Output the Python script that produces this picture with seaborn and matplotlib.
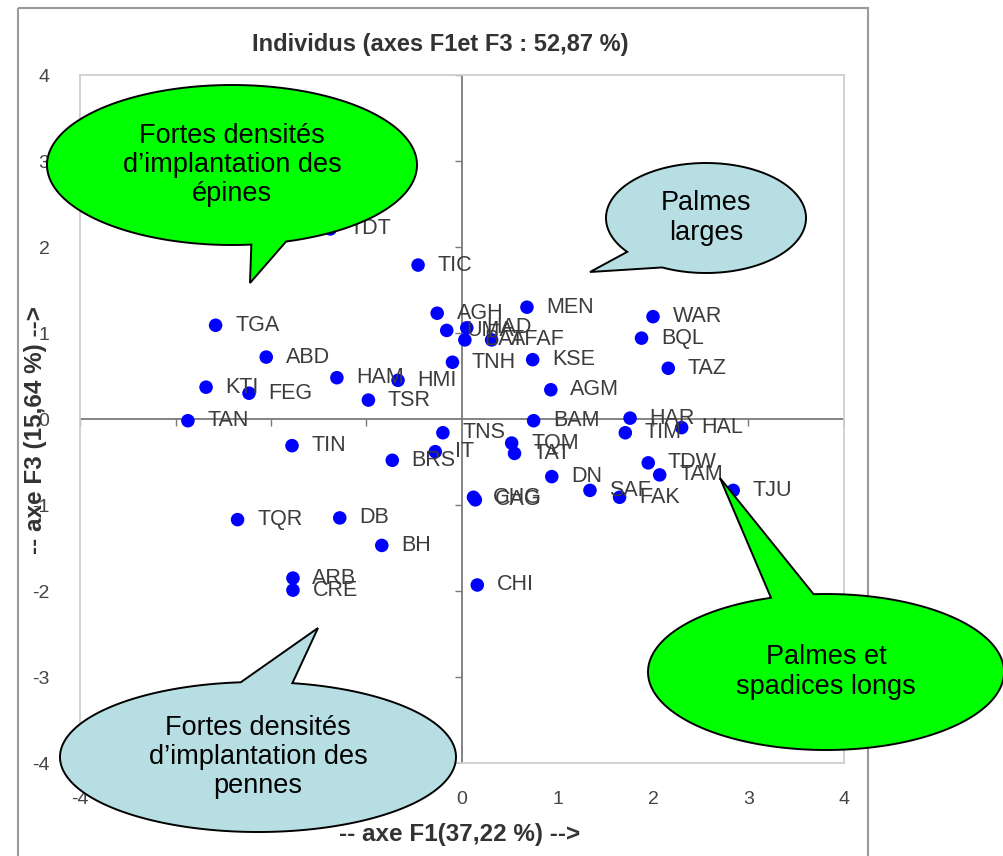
import numpy as np
import pandas as pd
import matplotlib
matplotlib.use("Agg")
from matplotlib import pyplot as plt
from matplotlib.patches import Polygon, Rectangle
from matplotlib.transforms import Affine2D
import seaborn as sns

# individus, coordonnées
names = ["TDT", "TIC", "TGA", "AGH", "UMA", "HAD", "BAT", "AFAF", "MEN", "WAR",
         "BQL", "ABD", "TAZ", "KSE", "TNH", "AGM", "KTI", "FEG", "TAN", "HAM",
         "HMI", "TSR", "BAM", "HAR", "TIM", "HAL", "TNS", "TIN", "BRS", "IT",
         "TQM", "TAT", "DN", "SAF", "FAK", "TDW", "TAM", "TJU", "GHG", "CAG",
         "TQR", "DB", "BH", "ARB", "CRE", "CHI"]
f1 = [-1.38, -0.46, -2.58, -0.26, -0.16, 0.05, 0.03, 0.31, 0.68, 2.00,
      1.88, -2.05, 2.16, 0.74, -0.10, 0.93, -2.68, -2.23, -2.87, -1.31,
      -0.67, -0.98, 0.75, 1.76, 1.71, 2.30, -0.20, -1.78, -0.73, -0.28,
      0.52, 0.55, 0.94, 1.34, 1.65, 1.95, 2.07, 2.84, 0.12, 0.14,
      -2.35, -1.28, -0.84, -1.77, -1.77, 0.16]
f3 = [2.21, 1.79, 1.09, 1.23, 1.03, 1.06, 0.92, 0.92, 1.30, 1.19,
      0.94, 0.72, 0.59, 0.69, 0.66, 0.34, 0.37, 0.30, -0.02, 0.48,
      0.45, 0.22, -0.02, 0.01, -0.16, -0.10, -0.16, -0.31, -0.48, -0.38,
      -0.28, -0.40, -0.67, -0.83, -0.91, -0.51, -0.65, -0.83, -0.91, -0.94,
      -1.17, -1.15, -1.47, -1.85, -1.99, -1.93]

ticks = [-4, -3, -2, -1, 0, 1, 2, 3, 4]
tick_labels = ["-4", "-3", "-2", "-1", "0", "1", "2", "3", "4"]

df = pd.DataFrame({"nom": names, "F1": f1, "F3": f3})

sns.set_style("white")
plt.rcParams["font.family"] = ["Liberation Sans", "DejaVu Sans"]

W, H = 1004, 856
fig = plt.figure(figsize=(W / 100, H / 100), dpi=100)
ax = fig.add_axes([80 / W, 1 - 763 / H, (844 - 80) / W, (763 - 75) / H])

sns.scatterplot(data=df, x="F1", y="F3", color="#0000ff", s=95, edgecolor="none",
                legend=False, ax=ax, zorder=3)
for _, r in df.iterrows():
    ax.annotate(r["nom"], (r["F1"], r["F3"]), xytext=(14, 0), textcoords="offset points",
                va="center", ha="left", fontsize=15.5, color="#3c3c3c", zorder=4)

ax.axhline(0, color="#7a7a7a", lw=1.3, zorder=1)
ax.axvline(0, color="#7a7a7a", lw=1.3, zorder=1)
ax.plot([t for t in ticks if t != 0], [0] * 8, ls="none", marker=3, ms=5, color="#7a7a7a", zorder=1)
ax.plot([0] * 8, [t for t in ticks if t != 0], ls="none", marker=0, ms=5, color="#7a7a7a", zorder=1)

ax.set_xlim(-4, 4)
ax.set_ylim(-4, 4)
ax.set_xticks(ticks)
ax.set_yticks(ticks)
ax.set_xticklabels(tick_labels, fontsize=14, color="#444444")
ax.set_yticklabels(tick_labels, fontsize=14, color="#444444")
ax.tick_params(length=0, pad=20)
ax.tick_params(axis="y", pad=22)
ax.set_xlabel("")
ax.set_ylabel("")
for s in ax.spines.values():
    s.set_color("#cfcfcf")
    s.set_linewidth(1.3)

fig.text(440 / W, 1 - 45 / H, "Individus (axes F1et F3 : 52,87 %)", ha="center", va="center",
         fontsize=17, fontweight="bold", color="#333333")
fig.text(460 / W, 1 - 835 / H, "-- axe F1(37,22 %) -->", ha="center", va="center",
         fontsize=17.5, fontweight="bold", color="#333333")
fig.text(36 / W, 1 - 430 / H, "-- axe F3 (15,64 %) -->", ha="center", va="center", rotation=90,
         fontsize=17.5, fontweight="bold", color="#333333")

# repère en pixels de l'image (y vers le bas)
px = Affine2D().scale(1 / W, -1 / H).translate(0, 1) + fig.transFigure

fig.patches.append(Rectangle((18, 8), 850, 860, fill=False, edgecolor="#9a9a9a", lw=1.5,
                             transform=px, figure=fig))


def callout(cx, cy, a, b, t0, t1, tip, color, text):
    t = np.radians(np.linspace(t1, t0 + 360, 300))
    pts = list(zip(cx + a * np.cos(t), cy + b * np.sin(t)))
    pts.append(tip)
    fig.patches.append(Polygon(pts, closed=True, facecolor=color, edgecolor="black", lw=1.4,
                               transform=px, figure=fig, zorder=5))
    fig.text(cx / W, 1 - cy / H, text, ha="center", va="center", fontsize=19.5,
             linespacing=1.15, color="black", zorder=6)


green = "#00ff00"
blue = "#b7dfe3"
callout(232, 165, 185, 80, 73, 84, (250, 283), green,
        "Fortes densités\nd\u2019implantation des\népines")
callout(706, 218, 100, 55, 116, 142, (590, 272), blue, "Palmes\nlarges")
callout(826, 672, 178, 78, 252, 266, (720, 478), green, "Palmes et\nspadices longs")
callout(258, 757, 198, 75, 265, 280, (318, 628), blue,
        "Fortes densités\nd\u2019implantation des\npennes")

fig.savefig("out.png", dpi=100)
